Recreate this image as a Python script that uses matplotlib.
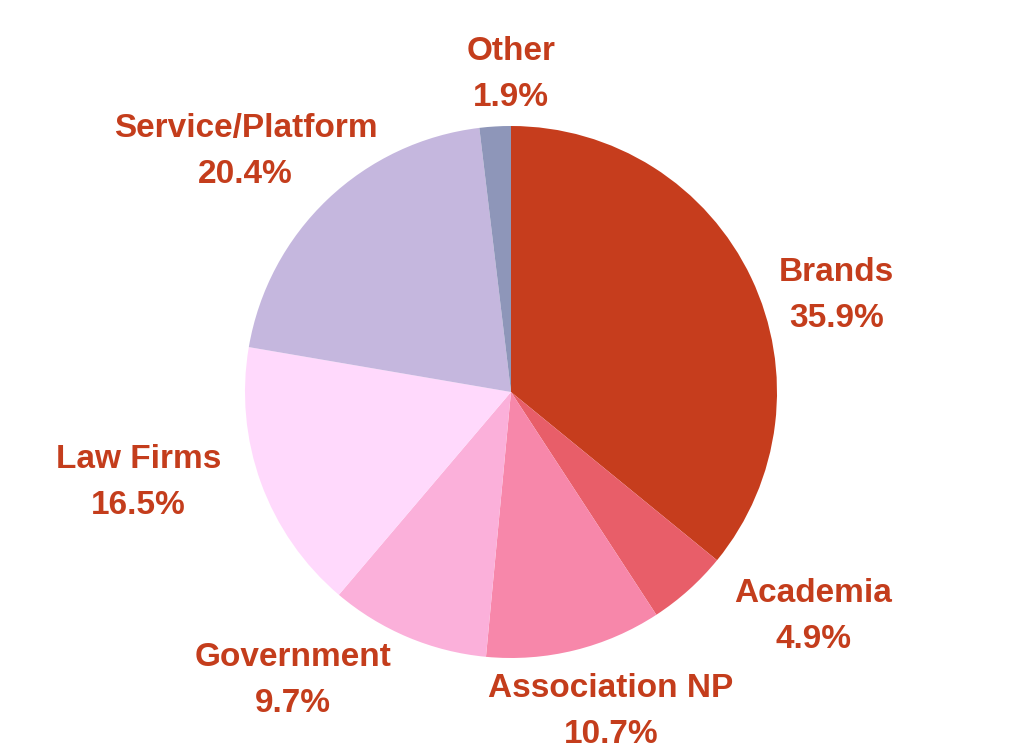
import matplotlib

matplotlib.use("Agg")
import matplotlib.pyplot as plt
import numpy as np

categories = ["Brands", "Academia", "Association NP", "Government",
              "Law Firms", "Service/Platform", "Other"]
shares = [35.9, 4.9, 10.7, 9.7, 16.5, 20.4, 1.9]

colors = ["#C63D1D", "#E85E69", "#F787AA", "#FBB0DA", "#FFD9FC", "#C5B7DE", "#8E96B9"]
# label placement: radius factor and angle nudge (degrees) relative to wedge middle
label_dist = [1.278, 1.41, 1.252, 1.353, 1.44, 1.353, 1.2]
label_shift = [-8.5, 11.7, 3.6, -14.5, -6.6, 4.0, -3.4]
text_color = "#C43D1C"

plt.rcParams["font.family"] = ["Liberation Sans", "DejaVu Sans"]

fig = plt.figure(figsize=(10.24, 7.54), dpi=100)
ax = fig.add_axes([0, 0, 1, 1])
R = 266.0

wedges, _ = ax.pie(shares, colors=colors, startangle=90, counterclock=False,
                   radius=1.0, wedgeprops=dict(linewidth=0))

for w, name, val, d, s in zip(wedges, categories, shares, label_dist, label_shift):
    mid = np.deg2rad((w.theta1 + w.theta2) / 2 + s)
    ax.text(d * np.cos(mid), d * np.sin(mid) - 2 / R, f"{name}\n{val}%",
            ha="center", va="center", fontsize=24, fontweight="bold",
            color=text_color, linespacing=1.62)

ax.set_xlim(-511 / R, (1024 - 511) / R)
ax.set_ylim((392 - 754) / R, 392 / R)
ax.set_aspect("equal")
ax.axis("off")

fig.savefig("out.png", dpi=100)
